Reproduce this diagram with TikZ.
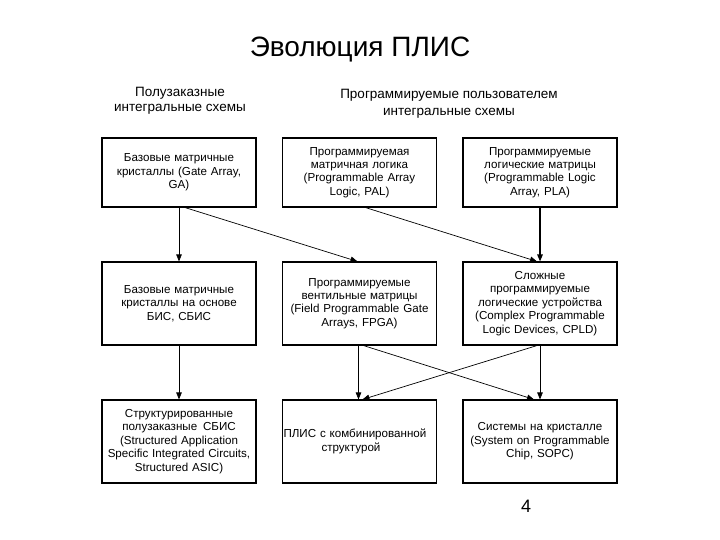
\documentclass[tikz,border=0pt]{standalone}
\usepackage{fontspec}
\setmainfont{Liberation Sans}
\usetikzlibrary{arrows.meta}
\tikzset{
  box/.style={draw=black, line width=1.1pt, fill=white, align=center, font=\fontsize{11.6}{13.4}\selectfont, inner sep=1pt, text width=152pt},
  arr/.style={line width=0.7pt, -{Triangle[length=7pt,width=5.5pt]}},
  hdr/.style={align=center, font=\fontsize{13.5}{15}\selectfont}
}
\begin{document}
\begin{tikzpicture}[x=1pt,y=-1pt]
\useasboundingbox (0,0) rectangle (720,540);
\node[font=\fontsize{28}{32}\selectfont] (title) at (360,50) {Эволюция ПЛИС};
\node[hdr] (h1) at (180,100.5) {Полузаказные\\интегральные схемы};
\node[hdr, font=\fontsize{13.5}{16.5}\selectfont] (h2) at (449,104) {Программируемые пользователем\\интегральные схемы};

\node[box, minimum width=154pt, minimum height=69pt] (ga) at (179,172.5) {Базовые матричные\\кристаллы (Gate Array,\\GA)};
\node[box, minimum width=153pt, minimum height=69pt] (pal) at (359.5,172.5) {Программируемая\\матричная логика\\(Programmable Array\\Logic, PAL)};
\node[box, minimum width=154pt, minimum height=69pt] (pla) at (540,172.5) {Программируемые\\логические матрицы\\(Programmable Logic\\Array, PLA)};

\node[box, minimum width=154pt, minimum height=83pt] (bis) at (179,303.5) {Базовые матричные\\кристаллы на основе\\БИС, СБИС};
\node[box, minimum width=153pt, minimum height=83pt] (fpga) at (359.5,303.5) {Программируемые\\вентильные матрицы\\(Field Programmable Gate\\Arrays, FPGA)};
\node[box, minimum width=154pt, minimum height=83pt] (cpld) at (540,303.5) {Сложные\\программируемые\\логические устройства\\(Complex Programmable\\Logic Devices, CPLD)};

\node[box, minimum width=154pt, minimum height=83pt] (sasic) at (179,441.5) {Структурированные\\полузаказные\, СБИС\\(Structured Application\\Specific Integrated Circuits,\\Structured ASIC)};
\node[box, minimum width=153pt, minimum height=83pt, align=left] (comb) at (359.5,441.5) {ПЛИС с комбинированной\\\hspace*{38pt}структурой};
\node[box, minimum width=154pt, minimum height=83pt] (sopc) at (540,441.5) {Системы на кристалле\\(System on Programmable\\Chip, SOPC)};

\node[font=\fontsize{18}{20}\selectfont] (pg) at (526,506) {4};

\draw[arr] (ga.south) -- (bis.north);
\draw[arr] ([xshift=6pt]ga.south) -- ([xshift=-2pt]fpga.north);
\draw[arr] ([xshift=6pt]pal.south) -- ([xshift=-3pt]cpld.north);
\draw[arr, line width=1.3pt] (pla.south) -- (cpld.north);
\draw[arr] (bis.south) -- (sasic.north);
\draw[arr] ([xshift=-1pt]fpga.south) -- ([xshift=-1pt]comb.north);
\draw[arr] ([xshift=4pt]fpga.south) -- ([xshift=-6pt]sopc.north);
\draw[arr] ([xshift=-3pt]cpld.south) -- ([xshift=3pt]comb.north);
\draw[arr] (cpld.south) -- (sopc.north);
\end{tikzpicture}
\end{document}
